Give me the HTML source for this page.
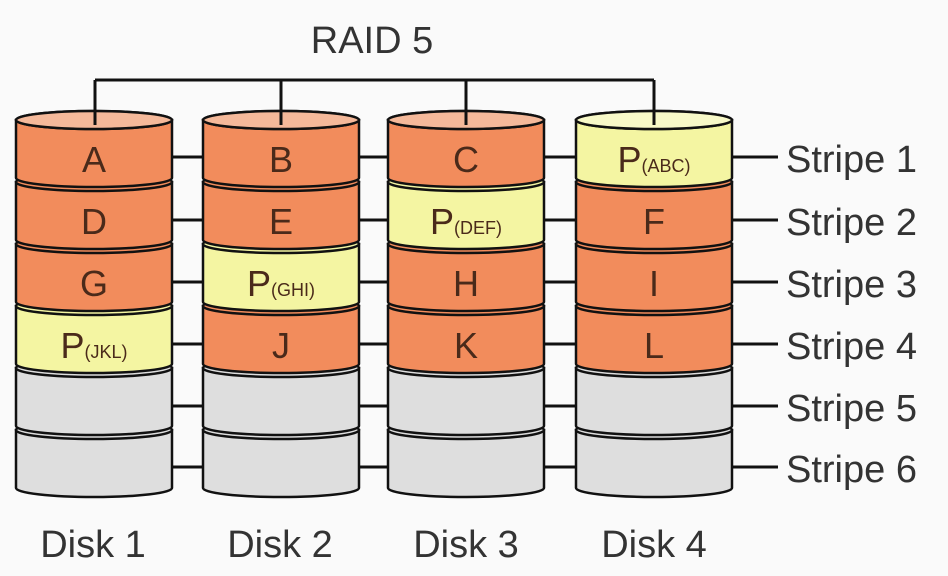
<!DOCTYPE html>
<html><head><meta charset="utf-8"><style>
body{margin:0;background:#fafafa;}
svg{display:block;font-family:"Liberation Sans",sans-serif;}
</style></head><body>
<svg width="948" height="576" viewBox="0 0 948 576" xmlns="http://www.w3.org/2000/svg" xmlns:xlink="http://www.w3.org/1999/xlink">
<defs>
<g id="s0" stroke="#111" stroke-width="2.5"><path d="M0 120 L0 178 A78 9 0 0 0 156 178 L156 120 Z"/><ellipse cx="78" cy="120" rx="78" ry="9"/></g>
<g id="s1" stroke="#111" stroke-width="2.5"><path d="M0 182 L0 240 A78 9 0 0 0 156 240 L156 182 Z"/><ellipse cx="78" cy="182" rx="78" ry="9"/></g>
<g id="s2" stroke="#111" stroke-width="2.5"><path d="M0 244 L0 302 A78 9 0 0 0 156 302 L156 244 Z"/><ellipse cx="78" cy="244" rx="78" ry="9"/></g>
<g id="s3" stroke="#111" stroke-width="2.5"><path d="M0 306 L0 364 A78 9 0 0 0 156 364 L156 306 Z"/><ellipse cx="78" cy="306" rx="78" ry="9"/></g>
<g id="s4" stroke="#111" stroke-width="2.5"><path d="M0 368 L0 426 A78 9 0 0 0 156 426 L156 368 Z"/><ellipse cx="78" cy="368" rx="78" ry="9"/></g>
<g id="s5" stroke="#111" stroke-width="2.5"><path d="M0 430 L0 488 A78 9 0 0 0 156 488 L156 430 Z"/><ellipse cx="78" cy="430" rx="78" ry="9"/></g>
</defs>
<rect width="948" height="576" fill="#fafafa"/>
<text x="372" y="53" font-size="38" text-anchor="middle" fill="#333">RAID 5</text>
<g stroke="#111" stroke-width="3" fill="none">
<path d="M95 80 H654"/>
<path d="M172 157H203 M358 157H388 M543 157H576 M731 157H778"/>
<path d="M172 220H203 M358 220H388 M543 220H576 M731 220H778"/>
<path d="M172 282H203 M358 282H388 M543 282H576 M731 282H778"/>
<path d="M172 344H203 M358 344H388 M543 344H576 M731 344H778"/>
<path d="M172 406H203 M358 406H388 M543 406H576 M731 406H778"/>
<path d="M172 467H203 M358 467H388 M543 467H576 M731 467H778"/>
</g>
<g transform="translate(16,0)">
<use xlink:href="#s5" fill="#dedede"/><use xlink:href="#s4" fill="#dedede"/>
<use xlink:href="#s3" fill="#f4f5a2"/><use xlink:href="#s2" fill="#f28c5c"/><use xlink:href="#s1" fill="#f28c5c"/>
<use xlink:href="#s0" fill="#f28c5c"/><ellipse cx="78" cy="120" rx="78" ry="9" fill="#f5b99a" stroke="#111" stroke-width="2.5"/>
</g>
<g transform="translate(203,0)">
<use xlink:href="#s5" fill="#dedede"/><use xlink:href="#s4" fill="#dedede"/>
<use xlink:href="#s3" fill="#f28c5c"/><use xlink:href="#s2" fill="#f4f5a2"/><use xlink:href="#s1" fill="#f28c5c"/>
<use xlink:href="#s0" fill="#f28c5c"/><ellipse cx="78" cy="120" rx="78" ry="9" fill="#f5b99a" stroke="#111" stroke-width="2.5"/>
</g>
<g transform="translate(388,0)">
<use xlink:href="#s5" fill="#dedede"/><use xlink:href="#s4" fill="#dedede"/>
<use xlink:href="#s3" fill="#f28c5c"/><use xlink:href="#s2" fill="#f28c5c"/><use xlink:href="#s1" fill="#f4f5a2"/>
<use xlink:href="#s0" fill="#f28c5c"/><ellipse cx="78" cy="120" rx="78" ry="9" fill="#f5b99a" stroke="#111" stroke-width="2.5"/>
</g>
<g transform="translate(576,0)">
<use xlink:href="#s5" fill="#dedede"/><use xlink:href="#s4" fill="#dedede"/>
<use xlink:href="#s3" fill="#f28c5c"/><use xlink:href="#s2" fill="#f28c5c"/><use xlink:href="#s1" fill="#f28c5c"/>
<use xlink:href="#s0" fill="#f4f5a2"/><ellipse cx="78" cy="120" rx="78" ry="9" fill="#f8f9c8" stroke="#111" stroke-width="2.5"/>
</g>
<g stroke="#111" stroke-width="3" fill="none">
<path d="M95 80 V125 M281 80 V125 M466 80 V125 M654 80 V125"/>
</g>
<g font-size="36" fill="#4a2a1a" text-anchor="middle">
<text x="94" y="172">A</text><text x="94" y="234">D</text><text x="94" y="296">G</text>
<text x="94" y="358">P<tspan font-size="18">(JKL)</tspan></text>
<text x="281" y="172">B</text><text x="281" y="234">E</text>
<text x="281" y="296">P<tspan font-size="18">(GHI)</tspan></text><text x="281" y="358">J</text>
<text x="466" y="172">C</text>
<text x="466" y="234">P<tspan font-size="18">(DEF)</tspan></text>
<text x="466" y="296">H</text><text x="466" y="358">K</text>
<text x="654" y="172">P<tspan font-size="18">(ABC)</tspan></text>
<text x="654" y="234">F</text><text x="654" y="296">I</text><text x="654" y="358">L</text>
</g>
<g font-size="38" fill="#333">
<text x="786" y="172">Stripe 1</text>
<text x="786" y="235">Stripe 2</text>
<text x="786" y="297">Stripe 3</text>
<text x="786" y="359">Stripe 4</text>
<text x="786" y="421">Stripe 5</text>
<text x="786" y="482">Stripe 6</text>
<text x="93" y="557" text-anchor="middle">Disk 1</text>
<text x="280" y="557" text-anchor="middle">Disk 2</text>
<text x="466" y="557" text-anchor="middle">Disk 3</text>
<text x="654" y="557" text-anchor="middle">Disk 4</text>
</g>
</svg>
</body></html>
